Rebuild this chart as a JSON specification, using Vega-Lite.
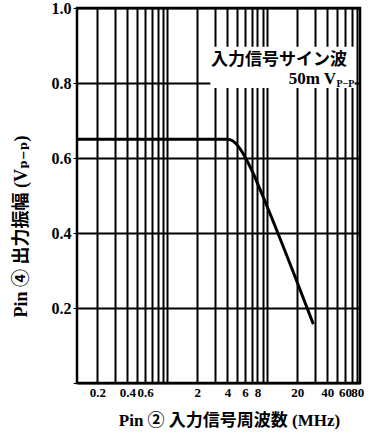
{
  "$schema": "https://vega.github.io/schema/vega-lite/v6.json",
  "width": 283,
  "height": 375,
  "autosize": {"type": "none"},
  "padding": {"left": 77, "top": 8, "right": 11, "bottom": 52},
  "background": "white",
  "config": {
    "view": {"stroke": "black", "strokeWidth": 2.5},
    "font": "Liberation Serif"
  },
  "datasets": {
    "curve": [
      {"f": 0.125, "v": 0.65},
      {"f": 1, "v": 0.65},
      {"f": 4, "v": 0.65},
      {"f": 4.5, "v": 0.646},
      {"f": 5, "v": 0.635},
      {"f": 5.5, "v": 0.62},
      {"f": 6, "v": 0.603},
      {"f": 7, "v": 0.568},
      {"f": 9, "v": 0.5},
      {"f": 18, "v": 0.3},
      {"f": 29, "v": 0.157}
    ],
    "box": [{"f1": 2.7, "f2": 75, "v1": 0.787, "v2": 0.897}],
    "note1": [{"f": 2.75, "v": 0.862, "t": "入力信号サイン波"}],
    "note2": [{"f": 49, "v": 0.81, "t": "50m V"}],
    "sub": [{"f": 49.5, "v": 0.797, "t": "P−P"}]
  },
  "layer": [
    {
      "data": {"name": "curve"},
      "mark": {"type": "line", "color": "black", "strokeWidth": 3, "interpolate": "monotone", "clip": true},
      "encoding": {
        "x": {
          "field": "f", "type": "quantitative",
          "scale": {"type": "log", "domain": [0.125, 85], "nice": false},
          "axis": {
            "values": [0.2, 0.3, 0.4, 0.5, 0.6, 0.7, 0.8, 0.9, 1, 2, 3, 4, 5, 6, 7, 8, 9, 10, 20, 30, 40, 50, 60, 70, 80],
            "labelExpr": "indexof([0.2,0.4,0.6,2,4,6,8,20,40,60,80], datum.value) >= 0 ? format(datum.value, '~g') : ''",
            "labelOverlap": false,
            "labelFont": "Liberation Serif",
            "labelFontWeight": "bold",
            "labelFontSize": 13,
            "labelColor": "black",
            "labelPadding": 3,
            "ticks": false,
            "domain": false,
            "grid": true,
            "gridColor": "black",
            "gridWidth": 2,
            "gridOpacity": 1,
            "title": "Pin ② 入力信号周波数  (MHz)",
            "titleFont": "Liberation Serif, Noto Sans CJK JP",
            "titleFontWeight": "bold",
            "titleFontSize": 17,
            "titleColor": "black",
            "titlePadding": 13,
            "titleX": 152,
            "titleAnchor": "middle"
          }
        },
        "y": {
          "field": "v", "type": "quantitative",
          "scale": {"domain": [0, 1], "nice": false},
          "axis": {
            "values": [0, 0.1, 0.2, 0.3, 0.4, 0.5, 0.6, 0.7, 0.8, 0.9, 1.0],
            "format": ".1f",
            "labelExpr": "indexof(['0.2','0.4','0.6','0.8','1.0'], datum.label) >= 0 ? datum.label : ''",
            "labelFont": "Liberation Serif",
            "labelFontWeight": "bold",
            "labelFontSize": 16,
            "labelColor": "black",
            "labelPadding": 2,
            "ticks": true,
            "tickSize": 4,
            "tickColor": "black",
            "domain": false,
            "grid": true,
            "gridColor": "black",
            "gridWidth": 2,
            "gridOpacity": 1,
            "title": "Pin ④ 出力振幅   (Vₚ₋ₚ)",
            "titleFont": "Liberation Serif, DejaVu Serif, Noto Sans CJK JP",
            "titleFontWeight": "bold",
            "titleFontSize": 18,
            "titleColor": "black",
            "titlePadding": 21,
            "titleY": 218,
            "titleAnchor": "middle"
          }
        }
      }
    },
    {
      "data": {"name": "box"},
      "mark": {"type": "rect", "color": "white", "opacity": 1},
      "encoding": {
        "x": {"field": "f1", "type": "quantitative"},
        "x2": {"field": "f2"},
        "y": {"field": "v1", "type": "quantitative"},
        "y2": {"field": "v2"}
      }
    },
    {
      "data": {"name": "note1"},
      "mark": {"type": "text", "color": "black", "fontWeight": "bold", "font": "Noto Sans CJK JP", "fontSize": 17, "align": "left", "baseline": "middle"},
      "encoding": {
        "x": {"field": "f", "type": "quantitative"},
        "y": {"field": "v", "type": "quantitative"},
        "text": {"field": "t"}
      }
    },
    {
      "data": {"name": "note2"},
      "mark": {"type": "text", "color": "black", "fontWeight": "bold", "font": "Liberation Serif", "fontSize": 17, "align": "right", "baseline": "middle"},
      "encoding": {
        "x": {"field": "f", "type": "quantitative"},
        "y": {"field": "v", "type": "quantitative"},
        "text": {"field": "t"}
      }
    },
    {
      "data": {"name": "sub"},
      "mark": {"type": "text", "color": "black", "fontWeight": "bold", "font": "Liberation Serif", "fontSize": 10, "align": "left", "baseline": "middle"},
      "encoding": {
        "x": {"field": "f", "type": "quantitative"},
        "y": {"field": "v", "type": "quantitative"},
        "text": {"field": "t"}
      }
    }
  ]
}
